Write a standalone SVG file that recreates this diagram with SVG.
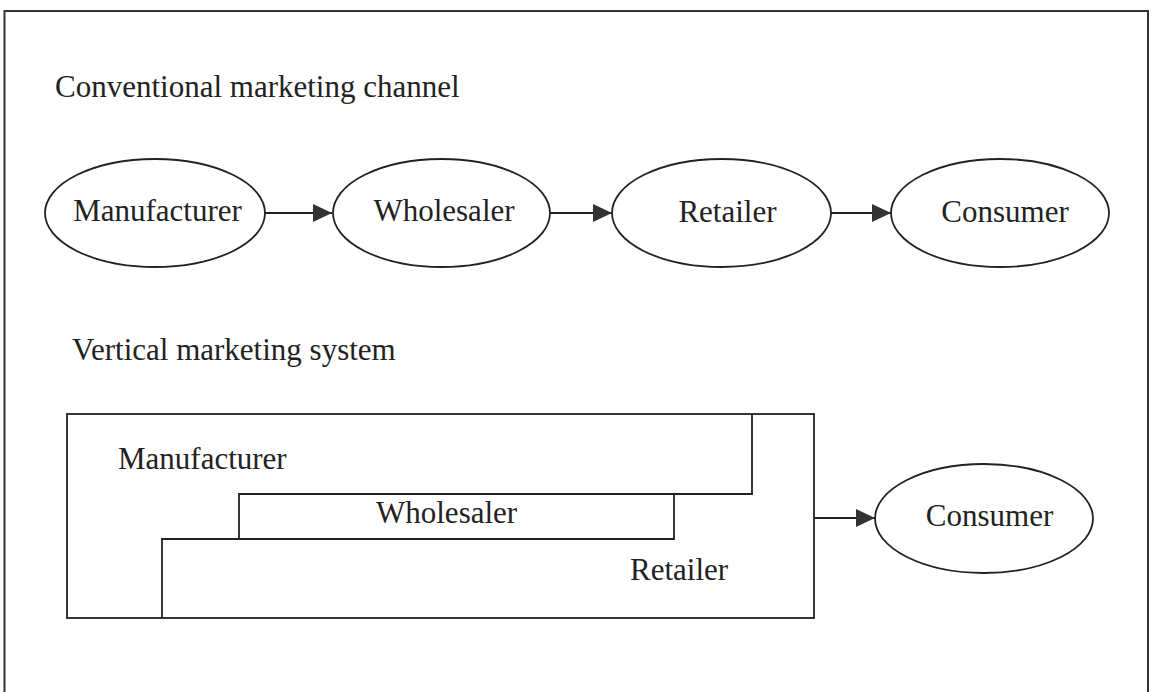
<svg xmlns="http://www.w3.org/2000/svg" width="1157" height="692" viewBox="0 0 1157 692">
<style>
text{font-family:"Liberation Serif","Times New Roman",serif;font-size:31px;fill:#222}
.shape{fill:none;stroke:#222;stroke-width:1.8}
.conn{stroke:#222;stroke-width:1.8;fill:none}
.frame{fill:none;stroke:#333;stroke-width:2}
</style>
<defs>
<marker id="arrow" markerUnits="userSpaceOnUse" markerWidth="20" markerHeight="20" viewBox="0 0 20 20" refX="19" refY="10" orient="auto">
<path d="M0,1 L19,10 L0,19 Z" fill="#333"/>
</marker>
</defs>
<rect width="1157" height="692" fill="#fff"/>
<rect class="frame" x="4.5" y="11" width="1143.5" height="700"/>
<g id="titles">
<text x="55" y="97">Conventional marketing channel</text>
<text x="72" y="360">Vertical marketing system</text>
</g>
<g id="conv-manufacturer">
<ellipse class="shape" cx="155" cy="213" rx="110" ry="54"/>
<text x="157.5" y="221" text-anchor="middle">Manufacturer</text>
</g>
<g id="conv-wholesaler">
<ellipse class="shape" cx="441.5" cy="213" rx="108.5" ry="54"/>
<text x="444" y="221" text-anchor="middle">Wholesaler</text>
</g>
<g id="conv-retailer">
<ellipse class="shape" cx="721.5" cy="213" rx="109.5" ry="54"/>
<text x="727.5" y="222" text-anchor="middle">Retailer</text>
</g>
<g id="conv-consumer">
<ellipse class="shape" cx="1000" cy="213" rx="109" ry="54"/>
<text x="1005" y="222" text-anchor="middle">Consumer</text>
</g>
<g id="vms">
<rect class="shape" x="67" y="414" width="747" height="204"/>
<polyline class="shape" points="752,414 752,494 239,494 239,539 162,539 162,618"/>
<polyline class="shape" points="674,494 674,539 239,539"/>
</g>
<g id="vms-manufacturer"><text x="118" y="469">Manufacturer</text></g>
<g id="vms-wholesaler"><text x="376" y="523">Wholesaler</text></g>
<g id="vms-retailer"><text x="630" y="580">Retailer</text></g>
<g id="vms-consumer">
<ellipse class="shape" cx="984" cy="518.5" rx="109" ry="54.5"/>
<text x="989.5" y="526" text-anchor="middle">Consumer</text>
</g>
<g id="connectors">
<line class="conn" x1="265" y1="213" x2="332" y2="213" marker-end="url(#arrow)"/>
<line class="conn" x1="550" y1="213" x2="612" y2="213" marker-end="url(#arrow)"/>
<line class="conn" x1="831" y1="213" x2="891" y2="213" marker-end="url(#arrow)"/>
<line class="conn" x1="814" y1="518" x2="875" y2="518" marker-end="url(#arrow)"/>
</g>
</svg>
